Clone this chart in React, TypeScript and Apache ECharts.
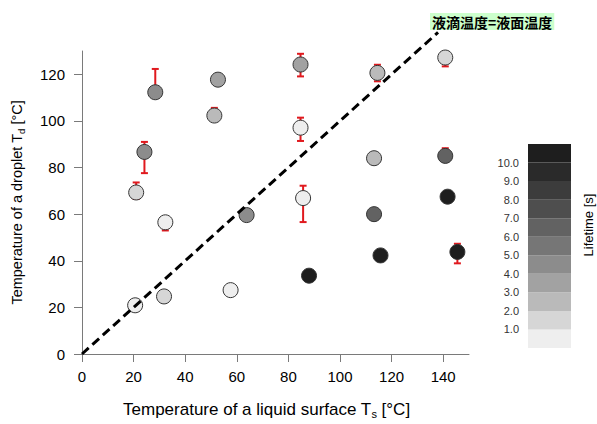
import React, { useEffect, useRef } from "react";
import * as echarts from "echarts";

// ---- data ----
const surfaceTemps = [20.6, 31.8, 57.6, 32.3, 63.8, 21.0, 24.2, 28.4, 51.3, 52.7, 84.7, 84.7, 85.7, 88.0, 114.5, 113.2, 113.2, 115.7, 140.8, 140.8, 141.7, 145.5];
const dropletTemps = [20.9, 24.7, 27.4, 56.5, 59.6, 69.3, 86.7, 112.3, 102.3, 117.7, 124.2, 97.1, 66.9, 33.6, 120.6, 84.0, 60.0, 42.3, 127.2, 85.0, 67.5, 43.8];
const lifetimes = [0.5, 1.5, 0.5, 0.5, 4.5, 1.5, 4.5, 4.5, 2.5, 3.5, 3.5, 0.5, 0.5, 10.5, 2.5, 2.5, 6.5, 10.5, 1.5, 6.5, 10.5, 10.5];
const errLow: (number | null)[] = [null, null, null, 53, 59.6, 66.5, 77.6, 110, 102.3, null, 119.1, 91.4, 56.6, null, 117, null, null, null, 123.4, 85, null, 38.9];
const errHigh: (number | null)[] = [null, null, null, 56.5, 62, 73.6, 91, 122.3, 105.6, null, 128.8, 101.4, 72.2, null, 124.1, null, null, null, 127.2, 88.3, null, 47.3];

const xTicks = [0, 20, 40, 60, 80, 100, 120, 140];
const yTicks = [0, 20, 40, 60, 80, 100, 120];
const refLine = [[0, 0], [138, 138]];

// lifetime bands: band i covers [i, i+1) seconds (band 0: < 1, band 10: >= 10)
const bandColors = ["#eeeeee", "#d6d6d6", "#bababa", "#a2a2a2", "#8c8c8c", "#767676", "#626262", "#4e4e4e", "#3c3c3c", "#2a2a2a", "#1e1e1e"];
const bandLabels = [1, 2, 3, 4, 5, 6, 7, 8, 9, 10];

const FONT = "'Liberation Sans', Arial, Helvetica, sans-serif";

export default function App() {
  const ref = useRef<HTMLDivElement>(null);

  useEffect(() => {
    if (!ref.current) return;
    const chart = echarts.init(ref.current, null, { renderer: "svg" });

    const scatterData = surfaceTemps.map((x, i) => [x, dropletTemps[i], lifetimes[i]]);
    const errData: number[][] = [];
    surfaceTemps.forEach((x, i) => {
      const lo = errLow[i];
      const hi = errHigh[i];
      if (lo != null && hi != null) errData.push([x, lo, hi]);
    });
    const bandData = bandColors.map((_, i) => [i, i + 1, i]);

    const pieces = bandColors.map((color, i) => {
      if (i === 0) return { lt: 1, color };
      if (i === bandColors.length - 1) return { gte: i, color };
      return { gte: i, lt: i + 1, color };
    });

    const xRich = {
      t: { fontSize: 17, lineHeight: 20, fontFamily: FONT, color: "#000", verticalAlign: "middle" },
      sub: { fontSize: 11, lineHeight: 11, fontFamily: FONT, color: "#000", verticalAlign: "bottom" },
    };
    const yRich = {
      t: { fontSize: 14.5, lineHeight: 18, fontFamily: FONT, color: "#000", verticalAlign: "middle" },
      sub: { fontSize: 9.5, lineHeight: 9.5, fontFamily: FONT, color: "#000", verticalAlign: "bottom" },
    };

    const axisLineStyle = { color: "#7a7a7a", width: 1 };

    const option: any = {
      animation: false,
      backgroundColor: "#ffffff",
      title: {
        text: "液滴温度=液面温度",
        left: 430,
        top: 13,
        padding: [1, 2],
        backgroundColor: "#ccffcc",
        textStyle: {
          fontSize: 14,
          fontWeight: "bold",
          color: "#000",
          fontFamily: "'Noto Sans CJK JP', sans-serif",
          lineHeight: 15,
        },
      },
      grid: [
        { left: 82, right: 128, top: 51, bottom: 68 },
        { left: 528, width: 43, top: 144, height: 204 },
      ],
      xAxis: [
        {
          type: "value",
          gridIndex: 0,
          min: 0,
          max: 150,
          interval: 20,
          name: "{t|Temperature of a liquid surface T}{sub|s}{t| [°C]}",
          nameLocation: "middle",
          nameGap: 45,
          nameTextStyle: { rich: xRich, padding: [0, 18, 0, 0] },
          axisLine: { show: true, lineStyle: axisLineStyle },
          axisTick: { show: true, length: 8, inside: false, lineStyle: axisLineStyle, customValues: xTicks },
          axisLabel: { fontSize: 15, color: "#000", fontFamily: FONT, margin: 15, customValues: xTicks },
          splitLine: { show: false },
        },
        { type: "value", gridIndex: 1, min: 0, max: 1, show: false },
      ],
      yAxis: [
        {
          type: "value",
          gridIndex: 0,
          min: 0,
          max: 130,
          interval: 20,
          name: "{t|Temperature of a droplet T}{sub|d}{t| [°C]}",
          nameLocation: "middle",
          nameGap: 56,
          nameTextStyle: { rich: yRich },
          axisLine: { show: true, lineStyle: axisLineStyle },
          axisTick: { show: true, length: 8, inside: false, lineStyle: axisLineStyle, customValues: yTicks },
          axisLabel: { fontSize: 15, color: "#000", fontFamily: FONT, margin: 17, customValues: yTicks },
          splitLine: { show: false },
        },
        {
          type: "value",
          gridIndex: 1,
          min: 0,
          max: 11,
          interval: 1,
          axisLine: { show: false },
          axisTick: { show: false },
          splitLine: { show: false },
          axisLabel: {
            customValues: bandLabels,
            formatter: (v: number) => v.toFixed(1),
            fontSize: 11,
            color: "#333",
            fontFamily: FONT,
            margin: 9,
          },
        },
      ],
      visualMap: {
        type: "piecewise",
        show: false,
        seriesIndex: 1,
        dimension: 2,
        pieces,
      },
      graphic: [
        {
          type: "text",
          x: 588,
          y: 225,
          rotation: Math.PI / 2,
          style: {
            text: "Lifetime [s]",
            fontSize: 13,
            fontFamily: FONT,
            fill: "#000",
            align: "center",
            verticalAlign: "middle",
          },
        },
      ],
      series: [
        {
          type: "custom",
          xAxisIndex: 0,
          yAxisIndex: 0,
          data: errData,
          z: 1,
          renderItem: (params: any, api: any) => {
            const x = api.value(0);
            const p1 = api.coord([x, api.value(1)]);
            const p2 = api.coord([x, api.value(2)]);
            const cap = 3.5;
            const style = { stroke: "#e0191e", lineWidth: 2 };
            return {
              type: "group",
              children: [
                { type: "line", shape: { x1: p1[0], y1: p1[1], x2: p2[0], y2: p2[1] }, style },
                { type: "line", shape: { x1: p1[0] - cap, y1: p1[1], x2: p1[0] + cap, y2: p1[1] }, style },
                { type: "line", shape: { x1: p2[0] - cap, y1: p2[1], x2: p2[0] + cap, y2: p2[1] }, style },
              ],
            };
          },
        },
        {
          type: "scatter",
          xAxisIndex: 0,
          yAxisIndex: 0,
          data: scatterData,
          symbol: "circle",
          symbolSize: 15,
          z: 2,
          itemStyle: { borderColor: "#333333", borderWidth: 1, opacity: 1 },
        },
        {
          type: "line",
          xAxisIndex: 0,
          yAxisIndex: 0,
          data: refLine,
          symbol: "none",
          clip: false,
          z: 3,
          lineStyle: { color: "#000", width: 3, type: [9, 5] },
        },
        {
          type: "custom",
          xAxisIndex: 1,
          yAxisIndex: 1,
          data: bandData,
          renderItem: (params: any, api: any) => {
            const p0 = api.coord([0, api.value(0)]);
            const p1 = api.coord([1, api.value(1)]);
            return {
              type: "rect",
              shape: { x: p0[0], y: p1[1], width: p1[0] - p0[0], height: p0[1] - p1[1] },
              style: { fill: bandColors[api.value(2)], stroke: null },
            };
          },
        },
      ],
    };

    chart.setOption(option);
    return () => chart.dispose();
  }, []);

  return (
    <div
      ref={ref}
      style={{ position: "absolute", left: 0, top: 0, width: 597, height: 424 }}
    />
  );
}
